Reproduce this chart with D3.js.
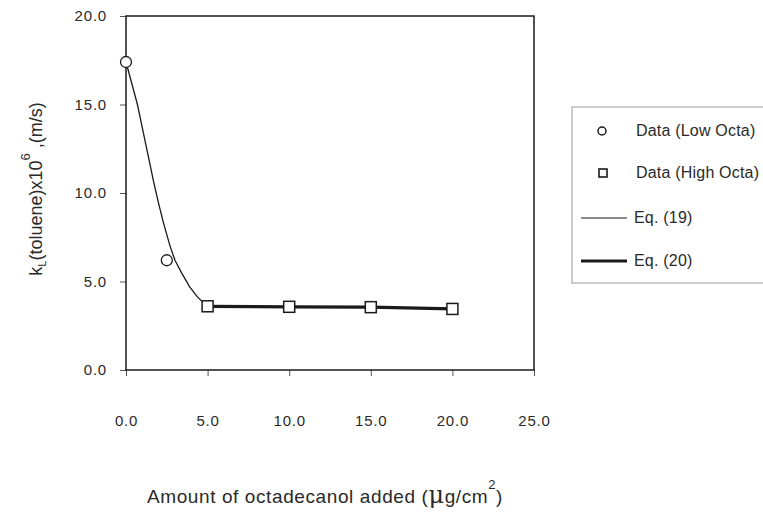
<!DOCTYPE html>
<html>
<head>
<meta charset="utf-8">
<script src="https://cdn.jsdelivr.net/npm/d3@7"></script>
<style>
  html, body { margin: 0; padding: 0; background: #fff; }
  svg { display: block; font-family: "Liberation Sans", Arial, sans-serif; }
</style>
</head>
<body>
<div id="chart"></div>
<script>
// --- Data ---
const lowOctaX = [0, 2.5];
const lowOctaY = [17.4, 6.2];

const highOctaX = [5, 10, 15, 20];
const highOctaY = [3.6, 3.57, 3.55, 3.45];

// Eq. (19) curve
const eq19X = [0, 0.7, 1.2, 1.7, 2.0, 2.3, 2.7, 3.0, 3.4, 3.9, 4.4, 5, 10, 15, 20];
const eq19Y = [17.4, 15.0, 12.8, 10.6, 9.4, 8.3, 7.0, 6.2, 5.5, 4.7, 4.1, 3.6, 3.57, 3.55, 3.45];

// Eq. (20) line
const eq20X = [5, 10, 15, 20];
const eq20Y = [3.6, 3.57, 3.55, 3.45];

const xTicks = [0, 5, 10, 15, 20, 25];
const yTicks = [0, 5, 10, 15, 20];

const legendLabels = ["Data (Low Octa)", "Data (High Octa)", "Eq. (19)", "Eq. (20)"];

const zip = (xs, ys) => xs.map((x, i) => ({ x, y: ys[i] }));

// --- SVG ---
const W = 763, H = 513;
const svg = d3.select("#chart").append("svg")
  .attr("width", W).attr("height", H);

const ink = "#1a1a1a";

// --- Scales ---
const x = d3.scaleLinear().domain([0, 25]).range([126, 534]);
const y = d3.scaleLinear().domain([0, 20]).range([370, 16]);

// --- Axes ---
const yAxis = svg.append("g")
  .attr("transform", `translate(${x(0)},0)`)
  .call(d3.axisLeft(y).tickValues(yTicks).tickFormat(d3.format(".1f")).tickSize(6).tickPadding(13));

const xAxis = svg.append("g")
  .attr("transform", `translate(0,${y(0)})`)
  .call(d3.axisBottom(x).tickValues(xTicks).tickFormat(d3.format(".1f")).tickSize(6).tickPadding(39));

[yAxis, xAxis].forEach(g => {
  g.select(".domain").remove();
  g.selectAll("line").attr("stroke", "#555").attr("stroke-width", 1);
  g.selectAll("text")
    .attr("fill", "#2a2a2a")
    .style("font-size", "15px")
    .style("letter-spacing", "0.8px")
    .style("font-family", "'Liberation Sans', Arial, sans-serif");
});

// Plot frame
svg.append("rect")
  .attr("x", x(0)).attr("y", y(20))
  .attr("width", x(25) - x(0)).attr("height", y(0) - y(20))
  .attr("fill", "none").attr("stroke", ink).attr("stroke-width", 1.5);

// --- Lines ---
const line = d3.line().x(d => x(d.x)).y(d => y(d.y));

svg.append("path")
  .datum(zip(eq19X, eq19Y))
  .attr("fill", "none").attr("stroke", ink).attr("stroke-width", 1.3)
  .attr("d", line);

svg.append("path")
  .datum(zip(eq20X, eq20Y))
  .attr("fill", "none").attr("stroke", ink).attr("stroke-width", 3.2)
  .attr("d", line);

// --- Markers ---
svg.selectAll(".low")
  .data(zip(lowOctaX, lowOctaY))
  .join("circle")
  .attr("class", "low")
  .attr("cx", d => x(d.x)).attr("cy", d => y(d.y))
  .attr("r", 5.5)
  .attr("fill", "#fff").attr("stroke", ink).attr("stroke-width", 1.3);

svg.selectAll(".high")
  .data(zip(highOctaX, highOctaY))
  .join("rect")
  .attr("class", "high")
  .attr("x", d => x(d.x) - 5.5).attr("y", d => y(d.y) - 5.5)
  .attr("width", 11).attr("height", 11)
  .attr("fill", "#fff").attr("stroke", ink).attr("stroke-width", 1.5);

// --- Axis titles ---
const yTitle = svg.append("text")
  .attr("transform", "translate(42,189) rotate(-90)")
  .attr("text-anchor", "middle")
  .attr("fill", "#2a2a2a")
  .style("font-size", "18px");
yTitle.append("tspan").text("k");
yTitle.append("tspan").attr("dy", 4).style("font-size", "11px").text("L");
yTitle.append("tspan").attr("dy", -4).text("(toluene)x10");
yTitle.append("tspan").attr("dy", -12).style("font-size", "13px").text("6");
yTitle.append("tspan").attr("dy", 12).text(" ,(m/s)");

const xTitle = svg.append("text")
  .attr("x", 325).attr("y", 503)
  .attr("text-anchor", "middle")
  .attr("fill", "#2a2a2a")
  .style("font-size", "19px")
  .style("letter-spacing", "0.6px");
xTitle.append("tspan").text("Amount of octadecanol added (");
xTitle.append("tspan").style("font-size", "24px").style("font-family", "'DejaVu Serif', serif").text("\u03bc");
xTitle.append("tspan").text("g/cm");
xTitle.append("tspan").attr("dy", -14).style("font-size", "13px").text("2");
xTitle.append("tspan").attr("dy", 14).text(")");

// --- Legend (its box runs off the right edge, as in the reference) ---
const legend = svg.append("g");
legend.append("rect")
  .attr("x", 572).attr("y", 107)
  .attr("width", 260).attr("height", 176)
  .attr("fill", "none").attr("stroke", "#999").attr("stroke-width", 1);

const rowY = [131, 173, 218, 261];
legendLabels.forEach((label, i) => {
  const g = legend.append("g").attr("transform", `translate(0,${rowY[i]})`);
  if (i === 0) {
    g.append("circle").attr("cx", 602).attr("cy", 0).attr("r", 4)
      .attr("fill", "#fff").attr("stroke", ink).attr("stroke-width", 1.5);
  } else if (i === 1) {
    g.append("rect").attr("x", 599).attr("y", -4).attr("width", 8).attr("height", 8)
      .attr("fill", "#fff").attr("stroke", ink).attr("stroke-width", 1.6);
  } else {
    g.append("line").attr("x1", 581).attr("x2", 627).attr("y1", 0).attr("y2", 0)
      .attr("stroke", ink).attr("stroke-width", i === 2 ? 1.2 : 3.2);
  }
  g.append("text")
    .attr("x", i < 2 ? 636 : 634).attr("y", 5)
    .attr("fill", "#2a2a2a")
    .style("font-size", "16px")
    .style("letter-spacing", "0.2px")
    .text(label);
});
</script>
</body>
</html>
